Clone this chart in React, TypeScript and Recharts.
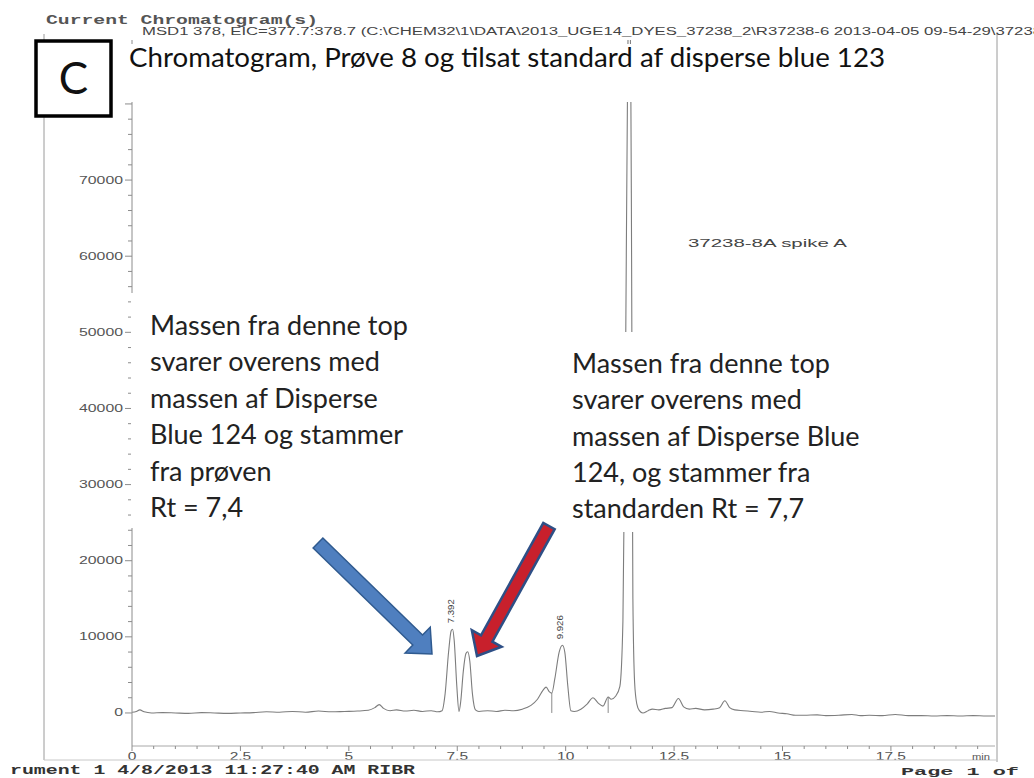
import React from 'react';
import { LineChart, Line, XAxis, YAxis, ReferenceLine, ReferenceDot } from 'recharts';

// Retention time (min) and abundance of the EIC 377.7:378.7 trace
const retentionTimes = [
  0.0, 0.1, 0.18, 0.28, 0.45, 0.7, 1.0, 1.3, 1.6, 1.9, 2.2, 2.5, 2.8, 3.1, 3.4, 3.7, 4.0, 4.3, 4.6, 4.9,
  5.2, 5.45, 5.6, 5.7, 5.8, 5.95, 6.1, 6.3, 6.5, 6.7, 6.9, 7.05, 7.15, 7.22, 7.3, 7.36, 7.392, 7.43, 7.49, 7.54,
  7.58, 7.64, 7.7, 7.74, 7.79, 7.85, 7.92, 8.0, 8.2, 8.4, 8.6, 8.8, 9.0, 9.2, 9.35, 9.48, 9.55, 9.62, 9.68, 9.75,
  9.85, 9.926, 9.98, 10.05, 10.12, 10.2, 10.35, 10.5, 10.63, 10.75, 10.86, 10.98, 11.05, 11.15, 11.25, 11.32, 11.38, 11.43, 11.46, 11.5,
  11.52, 11.55, 11.59, 11.64, 11.7, 11.78, 11.9, 12.0, 12.15, 12.3, 12.45, 12.6, 12.72, 12.85, 13.0, 13.2, 13.4, 13.55, 13.67, 13.78,
  13.9, 14.1, 14.3, 14.5, 14.7, 14.9, 15.1, 15.3, 15.5, 15.8, 16.0, 16.3, 16.6, 16.8, 17.0, 17.3, 17.6, 17.9, 18.2, 18.5,
  18.8, 19.1, 19.4, 19.7, 19.9,
];
const abundance = [
  100, 200, 400, 150, 0, 50, 0, -50, 50, 0, -50, 0, 50, 150, 100, 200, 100, 250, 150, 200,
  250, 350, 700, 1100, 600, 300, 400, 250, 350, 200, 300, 150, 300, 2500, 8000, 10800, 11000, 9500, 3500, 200,
  1500, 5500, 7800, 8050, 6800, 2500, 400, 200, 300, 200, 350, 300, 500, 1000, 1800, 3000, 3400, 2800, 2600, 4500,
  8000, 8900, 8000, 3500, 300, 200, 500, 1200, 2000, 1300, 900, 2100, 1800, 2200, 3500, 12000, 45000, 85000, 95000, 85000,
  60000, 15000, 4000, 1200, 300, 0, 300, 500, 400, 600, 700, 1900, 800, 500, 600, 400, 500, 700, 1600, 700,
  400, 300, 200, 100, 200, 0, -100, -300, -300, -250, -350, -300, -200, -350, -300, -350, -200, -350, -350, -400,
  -350, -400, -350, -400, -400,
];

// Integrated peaks with their retention-time labels
const peakTimes = [7.392, 9.926];
const peakHeights = [11000, 8900];
const peakTexts = ['7.392', '9.926'];

// Integration drop lines (time, top of the line)
const dropTimes = [9.68, 10.98];
const dropTops = [2600, 2100];

const xMajorTicks = [0, 2.5, 5, 7.5, 10, 12.5, 15, 17.5];
const xTickLabels = ['0', '2.5', '5', '7.5', '10', '12.5', '15', '17.5'];
const yMajorTicks = [0, 10000, 20000, 30000, 40000, 50000, 60000, 70000];
const yTickLabels = ['0', '10000', '20000', '30000', '40000', '50000', '60000', '70000'];

const xAllTicks: number[] = [];
for (let i = 0; i <= 39; i++) xAllTicks.push(i * 0.5);
const yAllTicks: number[] = [];
for (let i = 0; i <= 43; i++) yAllTicks.push(i * 2000);

const chartData = retentionTimes.map((t, i) => ({ t, y: abundance[i] }));

const AXIS = '#8c8c8c';
const TICK_TEXT = '#555';

// Width of a numeric label in the printout's stretched sans face
const numLabelWidth = (s: string, size: number, stretch: number) => {
  let w = 0;
  for (const ch of s) w += ch === '.' ? 0.278 : 0.556;
  return w * size * stretch;
};

const YTick = (props: any) => {
  const { x, y, payload } = props;
  const v = payload.value as number;
  const idx = yMajorTicks.indexOf(v);
  const major = v % 10000 === 0;
  return (
    <g>
      <line x1={x - (major ? 7 : 4)} x2={x} y1={y} y2={y} stroke={AXIS} strokeWidth={1} />
      {idx >= 0 && (
        <text
          x={x - 9}
          y={y + 3.5}
          textAnchor="end"
          fontFamily="Liberation Sans, Arial, sans-serif"
          fontSize={10}
          fill={TICK_TEXT}
          textLength={numLabelWidth(yTickLabels[idx], 10, 1.58)}
          lengthAdjust="spacingAndGlyphs"
        >
          {yTickLabels[idx]}
        </text>
      )}
    </g>
  );
};

const XTick = (props: any) => {
  const { x, y, payload } = props;
  const v = payload.value as number;
  const idx = xMajorTicks.indexOf(v);
  return (
    <g>
      <line x1={x} x2={x} y1={y} y2={y + (idx >= 0 ? 5 : 3)} stroke={AXIS} strokeWidth={1} />
      {idx >= 0 && (
        <text
          x={x}
          y={y + 14}
          textAnchor="middle"
          fontFamily="Liberation Sans, Arial, sans-serif"
          fontSize={10}
          fill={TICK_TEXT}
          textLength={numLabelWidth(xTickLabels[idx], 10, 1.55)}
          lengthAdjust="spacingAndGlyphs"
        >
          {xTickLabels[idx]}
        </text>
      )}
    </g>
  );
};

const peakLabelShape = (text: string) => (p: any) => (
  <text
    transform={`translate(${p.cx + 1},${p.cy - 6}) rotate(-90)`}
    fontFamily="Liberation Sans Narrow, Liberation Sans, sans-serif"
    fontSize={9}
    fill="#444"
    textLength={24}
    lengthAdjust="spacingAndGlyphs"
  >
    {text}
  </text>
);

type Pt = [number, number];
function blockArrow(tail: Pt, tip: Pt, shaft: number, headW: number, headL: number) {
  const dx = tip[0] - tail[0];
  const dy = tip[1] - tail[1];
  const len = Math.hypot(dx, dy);
  const ux = dx / len;
  const uy = dy / len;
  const px = -uy;
  const py = ux;
  const bx = tip[0] - ux * headL;
  const by = tip[1] - uy * headL;
  const pts: Pt[] = [
    [tail[0] + (px * shaft) / 2, tail[1] + (py * shaft) / 2],
    [bx + (px * shaft) / 2, by + (py * shaft) / 2],
    [bx + (px * headW) / 2, by + (py * headW) / 2],
    tip,
    [bx - (px * headW) / 2, by - (py * headW) / 2],
    [bx - (px * shaft) / 2, by - (py * shaft) / 2],
    [tail[0] - (px * shaft) / 2, tail[1] - (py * shaft) / 2],
  ];
  return pts.map((p) => p.join(',')).join(' ');
}

const leftNote = [
  'Massen fra denne top',
  'svarer overens med',
  'massen af Disperse',
  'Blue 124 og stammer',
  'fra prøven',
  'Rt = 7,4',
];
const rightNote = [
  'Massen fra denne top',
  'svarer overens med',
  'massen af Disperse Blue',
  '124, og stammer fra',
  'standarden Rt = 7,7',
];

const NOTE_FONT = 'Lato, "Open Sans", sans-serif';
const NOTE_SIZE = 27;

export default function App() {
  return (
    <div style={{ position: 'absolute', left: 0, top: 0, width: 1034, height: 778, background: '#fff', overflow: 'hidden' }}>
      <LineChart width={1034} height={778} data={chartData} margin={{ top: 40, right: 39, bottom: 12, left: 32 }}>
        <XAxis
          type="number"
          dataKey="t"
          domain={[0, 19.9]}
          allowDataOverflow
          ticks={xAllTicks}
          interval={0}
          tickSize={0}
          tickMargin={0}
          tickLine={false}
          axisLine={{ stroke: '#a8a8a8' }}
          tick={(p: any) => <XTick {...p} />}
          height={20}
        />
        <YAxis
          type="number"
          domain={[-4340, 88400]}
          allowDataOverflow
          ticks={yAllTicks}
          interval={0}
          tickSize={0}
          tickMargin={0}
          tickLine={false}
          axisLine={{ stroke: AXIS }}
          tick={(p: any) => <YTick {...p} />}
          width={100}
        />
        {dropTimes.map((t, i) => (
          <ReferenceLine
            key={`drop-${i}`}
            segment={[
              { x: t, y: 0 },
              { x: t, y: dropTops[i] },
            ]}
            stroke="#8a8a8a"
            strokeWidth={1}
          />
        ))}
        <Line
          type="monotone"
          dataKey="y"
          stroke="#7d7d7d"
          strokeWidth={1.1}
          dot={false}
          isAnimationActive={false}
        />
        {peakTimes.map((t, i) => (
          <ReferenceDot key={`pk-${i}`} x={t} y={peakHeights[i]} r={0} shape={peakLabelShape(peakTexts[i])} />
        ))}
      </LineChart>

      <svg width={1034} height={778} style={{ position: 'absolute', left: 0, top: 0, pointerEvents: 'none' }}>
        {/* page frame of the printout */}
        <line x1={44} x2={44} y1={34} y2={760} stroke="#9a9a9a" strokeWidth={1} />
        <line x1={997} x2={997} y1={34} y2={762} stroke="#9a9a9a" strokeWidth={1} />
        <line x1={44} x2={997} y1={760} y2={760} stroke="#c8c8c8" strokeWidth={1} />

        {/* printout header */}
        <text x={46} y={24} fontFamily="Liberation Mono, monospace" fontWeight="bold" fontSize={12} fill="#555" textLength={272} lengthAdjust="spacingAndGlyphs">
          Current Chromatogram(s)
        </text>
        <text x={142} y={35} fontFamily="Liberation Sans, Arial, sans-serif" fontSize={10} fill="#444" textLength={900} lengthAdjust="spacingAndGlyphs">
          {'MSD1 378, EIC=377.7:378.7 (C:\\CHEM32\\1\\DATA\\2013_UGE14_DYES_37238_2\\R37238-6 2013-04-05 09-54-29\\37238'}
        </text>

        {/* sample id */}
        <text x={688} y={247} fontFamily="Liberation Sans, Arial, sans-serif" fontSize={11} fill="#444" textLength={159} lengthAdjust="spacingAndGlyphs">
          37238-8A spike A
        </text>
        <text x={972} y={760} fontFamily="Liberation Sans, Arial, sans-serif" fontSize={9} fill="#555" textLength={18} lengthAdjust="spacingAndGlyphs">
          min
        </text>

        {/* printout footer */}
        <text x={10} y={774} fontFamily="Liberation Mono, monospace" fontWeight="bold" fontSize={12} fill="#333" textLength={405} lengthAdjust="spacingAndGlyphs">
          rument 1 4/8/2013 11:27:40 AM RIBR
        </text>
        <text x={901} y={775} fontFamily="Liberation Mono, monospace" fontWeight="bold" fontSize={11} fill="#333" textLength={118} lengthAdjust="spacingAndGlyphs">
          Page  1 of
        </text>

        {/* slide title */}
        <rect x={124} y={44} width={770} height={58} fill="#fff" />
        <text x={129} y={67} fontFamily={NOTE_FONT} fontSize={27.7} fill="#111">
          Chromatogram, Prøve 8 og tilsat standard af disperse blue 123
        </text>
        <rect x={36} y={41} width={75} height={75} fill="#fff" stroke="#000" strokeWidth={3.5} />
        <text x={73.5} y={94} textAnchor="middle" fontFamily={NOTE_FONT} fontSize={44} fill="#111">
          C
        </text>

        {/* notes */}
        <rect x={131} y={293} width={300} height={235} fill="#fff" />
        {leftNote.map((s, i) => (
          <text key={`l-${i}`} x={150} y={335 + i * 36.4} fontFamily={NOTE_FONT} fontSize={NOTE_SIZE} fill="#222">
            {s}
          </text>
        ))}
        <rect x={565} y={332} width={330} height={200} fill="#fff" />
        {rightNote.map((s, i) => (
          <text key={`r-${i}`} x={572} y={373 + i * 36.3} fontFamily={NOTE_FONT} fontSize={NOTE_SIZE} fill="#222">
            {s}
          </text>
        ))}

        {/* arrows */}
        <polygon points={blockArrow([318, 543], [432, 654], 14, 36, 20)} fill="#4f7fbf" stroke="#2f5a8f" strokeWidth={1.5} strokeLinejoin="miter" />
        <polygon points={blockArrow([549, 526], [477, 656], 13, 34, 20)} fill="#c8202c" stroke="#2e4f86" strokeWidth={2.5} strokeLinejoin="miter" />
      </svg>
    </div>
  );
}
